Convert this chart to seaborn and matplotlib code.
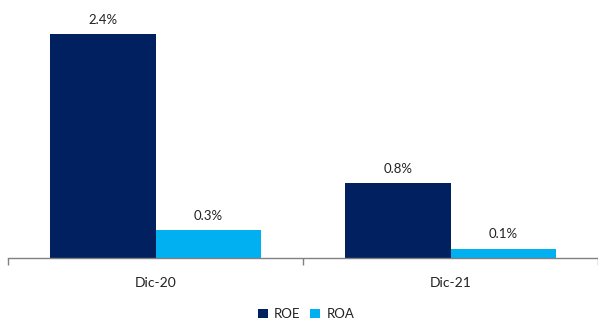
import matplotlib
matplotlib.use("Agg")
import matplotlib.pyplot as plt
import seaborn as sns
import pandas as pd

periods = ["Dic-20", "Dic-21"]
metrics = ["ROE", "ROA"]
roe = [2.4, 0.8]
roa = [0.3, 0.1]
colors = {"ROE": "#002060", "ROA": "#00B0F0"}

df = pd.DataFrame({
    "period": periods * 2,
    "metric": ["ROE"] * len(periods) + ["ROA"] * len(periods),
    "value": roe + roa,
})

sns.set_theme(style="white")
plt.rcParams["font.family"] = ["Lato", "DejaVu Sans"]

fig = plt.figure(figsize=(5.98, 3.23), dpi=100)
ax = fig.add_axes([8 / 598, 65 / 323, 590 / 598, 258 / 323])

sns.barplot(data=df, x="period", y="value", hue="metric", hue_order=metrics,
            palette=colors, width=0.712, saturation=1, errorbar=None, ax=ax,
            edgecolor="none", linewidth=0)

for container in ax.containers:
    ax.bar_label(container, labels=[f"{v:.1f}%" for v in container.datavalues],
                 padding=6, fontsize=9.5, color="#222222")

ax.set_xlim(-0.5, 1.5)
ax.set_ylim(0, 2.765)
ax.set_xlabel("")
ax.set_ylabel("")
ax.set_yticks([])
for side in ["top", "right", "left"]:
    ax.spines[side].set_visible(False)
ax.spines["bottom"].set_color("#808080")
ax.spines["bottom"].set_linewidth(1)

ax.set_xticks([-0.5, 0.5, 1.5], minor=True)
ax.tick_params(axis="x", which="minor", length=5, width=1, color="#808080", bottom=True)
ax.tick_params(axis="x", which="major", length=0, pad=14, labelsize=10, labelcolor="#222222")

handles, labels = ax.get_legend_handles_labels()
ax.legend(handles, labels, loc="center", bbox_to_anchor=(0.505, -0.218), ncol=2,
          frameon=False, fontsize=9.5, handlelength=0.75, handleheight=0.75,
          handletextpad=0.5, columnspacing=0.7, labelcolor="#222222")

fig.savefig("out.png", dpi=100)
